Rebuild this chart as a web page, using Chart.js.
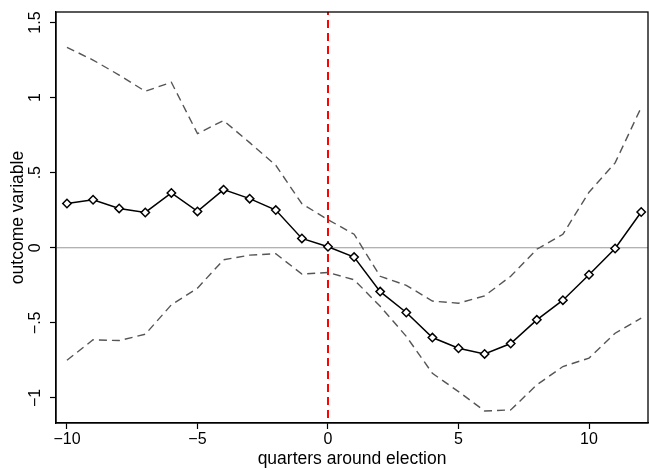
<!DOCTYPE html>
<html>
<head>
<meta charset="utf-8">
<script src="https://cdn.jsdelivr.net/npm/chart.js@4/dist/chart.umd.min.js"></script>
<style>
  html, body { margin: 0; padding: 0; background: #fff; overflow: hidden; }
  canvas { display: block; }
</style>
</head>
<body>
<canvas id="chart" width="649" height="471"></canvas>
<script>
const quarters = [-10, -9, -8, -7, -6, -5, -4, -3, -2, -1, 0, 1, 2, 3, 4, 5, 6, 7, 8, 9, 10, 11, 12]
const estimate = [0.295, 0.32, 0.262, 0.235, 0.365, 0.242, 0.387, 0.327, 0.251, 0.062, 0.007, -0.062, -0.292, -0.431, -0.598, -0.669, -0.707, -0.638, -0.48, -0.349, -0.18, -0.005, 0.238]
const upper = [1.335, 1.25, 1.15, 1.042, 1.102, 0.76, 0.847, 0.70, 0.549, 0.293, 0.187, 0.09, -0.19, -0.25, -0.355, -0.369, -0.32, -0.19, -0.01, 0.09, 0.37, 0.565, 0.935]
const lower = [-0.749, -0.613, -0.618, -0.576, -0.38, -0.269, -0.08, -0.049, -0.04, -0.175, -0.165, -0.213, -0.39, -0.59, -0.836, -0.958, -1.087, -1.08, -0.913, -0.791, -0.735, -0.569, -0.469]
const xTicks = [-10, -5, 0, 5, 10]
const yTicks = [-1, -0.5, 0, 0.5, 1, 1.5]
const electionQuarter = 0

const toPoints = (ys) => quarters.map((q, i) => ({ x: q, y: ys[i] }))

// Stata-style labels: ".5", "−.5"
function fmt(v) {
  let s = String(Math.abs(v)).replace(/^0\./, ".")
  return v < 0 ? "\u2212" + s : s
}

const frame = {
  id: "frame",
  afterDraw(chart) {
    const { ctx, chartArea: a } = chart
    ctx.save()
    ctx.strokeStyle = "#000"
    ctx.lineWidth = 1.3
    ctx.strokeRect(a.left, a.top, a.right - a.left, a.bottom - a.top)
    ctx.restore()
  }
}

const font = { family: "'Liberation Sans', Arial, sans-serif", size: 16 }
const titleFont = { family: "'Liberation Sans', Arial, sans-serif", size: 17.5 }

new Chart(document.getElementById("chart"), {
  type: "line",
  data: {
    datasets: [
      {
        data: toPoints(estimate),
        borderColor: "#000",
        borderWidth: 1.5,
        pointStyle: "rectRot",
        pointRadius: 4.2,
        pointBorderWidth: 1.5,
        pointBackgroundColor: "#fff",
        pointBorderColor: "#000",
        order: 0
      },
      {
        data: toPoints(upper),
        borderColor: "#555",
        borderWidth: 1.4,
        borderDash: [8, 5],
        pointRadius: 0,
        order: 1
      },
      {
        data: toPoints(lower),
        borderColor: "#555",
        borderWidth: 1.4,
        borderDash: [8, 5],
        pointRadius: 0,
        order: 1
      },
      {
        data: [{ x: electionQuarter, y: -2 }, { x: electionQuarter, y: 2 }],
        borderColor: "#ff0000",
        borderWidth: 2,
        borderDash: [8, 5],
        pointRadius: 0,
        order: 2
      },
      {
        data: [{ x: -20, y: 0 }, { x: 20, y: 0 }],
        borderColor: "#999",
        borderWidth: 1,
        pointRadius: 0,
        order: 3
      }
    ]
  },
  options: {
    responsive: false,
    animation: false,
    layout: { autoPadding: false, padding: { top: 12, right: 1, left: 0, bottom: 0 } },
    plugins: { legend: { display: false }, tooltip: { enabled: false } },
    scales: {
      x: {
        type: "linear",
        min: -10.42,
        max: 12.26,
        afterBuildTicks: (s) => { s.ticks = xTicks.map((v) => ({ value: v })) },
        afterFit: (s) => { s.height = 48; s.paddingLeft = 0; s.paddingRight = 0 },
        grid: { drawOnChartArea: false, tickLength: 6, tickColor: "#000", tickWidth: 1.2 },
        border: { color: "#000", width: 1.3 },
        ticks: { color: "#000", font, padding: 1, maxRotation: 0, callback: (v) => fmt(v) },
        title: { display: true, text: "quarters around election", color: "#000", font: titleFont, padding: { top: 0, bottom: 1 } }
      },
      y: {
        min: -1.167,
        max: 1.57,
        afterBuildTicks: (s) => { s.ticks = yTicks.map((v) => ({ value: v })) },
        afterFit: (s) => { s.width = 56; s.paddingTop = 0; s.paddingBottom = 0 },
        grid: { drawOnChartArea: false, tickLength: 6, tickColor: "#000", tickWidth: 1.2 },
        border: { color: "#000", width: 1.3 },
        ticks: { color: "#000", font, padding: 3, minRotation: 90, maxRotation: 90, crossAlign: "center", callback: (v) => fmt(v) },
        title: { display: true, text: "outcome variable", color: "#000", font: titleFont, padding: { top: 8, bottom: 0 } }
      }
    }
  },
  plugins: [frame]
})
</script>
</body>
</html>
